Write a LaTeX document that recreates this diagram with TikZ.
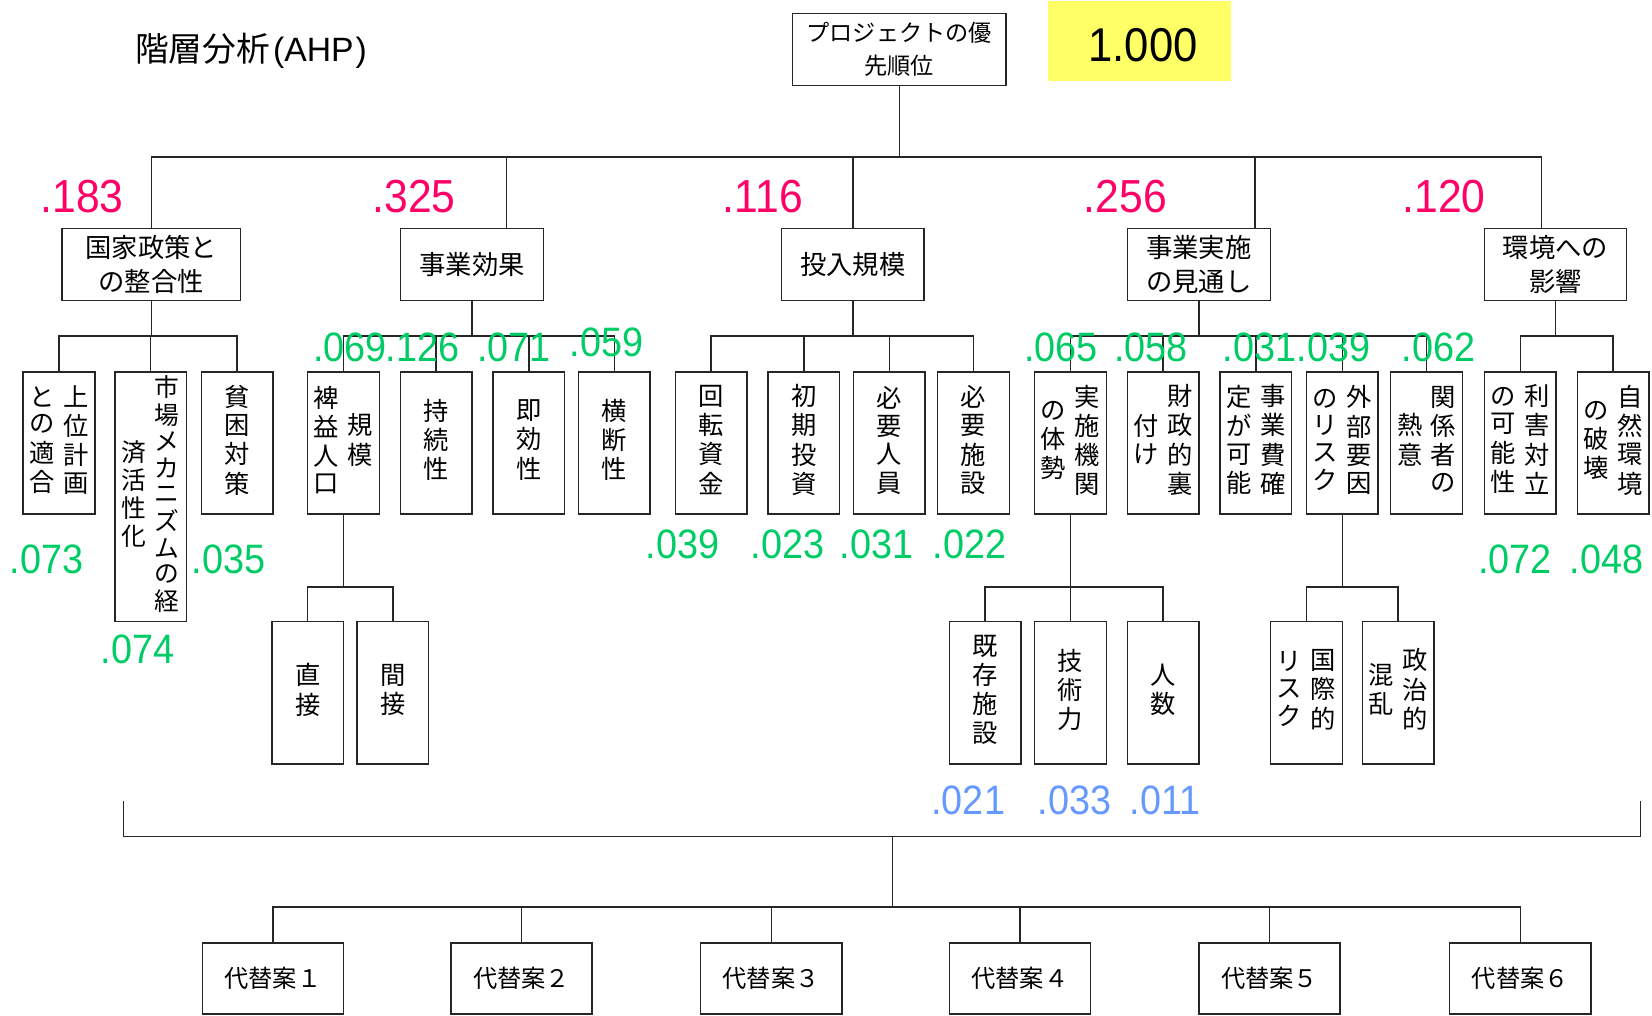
\documentclass[tikz,border=0pt]{standalone}
\usepackage{fontspec}
\setmainfont{Noto Sans CJK JP}
\newfontfamily\numfont[FakeStretch=0.92]{Liberation Sans}
\newfontfamily\latfont{Liberation Sans}
\usetikzlibrary{calc}
\definecolor{pinkv}{HTML}{FF0066}
\definecolor{greenv}{HTML}{00CC66}
\definecolor{bluev}{HTML}{6699FF}
\definecolor{yelbox}{HTML}{FFFF66}
\ExplSyntaxOn
\seq_new:N \l_vcol_seq
\NewDocumentCommand\vcol{m}{
  \seq_clear:N \l_vcol_seq
  \tl_map_inline:nn {#1} { \seq_put_right:Nn \l_vcol_seq {##1} }
  \begin{tabular}[c]{@{}c@{}} \seq_use:Nn \l_vcol_seq { \\ } \end{tabular}
}
\ExplSyntaxOff
\tikzset{
  ln/.style={draw=black!85, line width=1.3pt},
  hbox/.style={draw=black!85, line width=1.3pt, fill=white, inner sep=0pt, align=center, font=\fontsize{25}{31.5}\selectfont},
  vbx/.style={draw=black!85, line width=1.3pt, fill=white, inner sep=0pt, minimum width=68pt, minimum height=135pt, font=\fontsize{24}{25.5}\selectfont},
  pk/.style={text=pinkv, font=\numfont\fontsize{44}{44}\selectfont, anchor=base, inner sep=0pt},
  gr/.style={text=greenv, font=\numfont\fontsize{39}{39}\selectfont, anchor=base, inner sep=0pt},
  bl/.style={text=bluev, font=\numfont\fontsize{39}{39}\selectfont, anchor=base, inner sep=0pt},
}
\begin{document}
\begin{tikzpicture}[x=1pt,y=-1pt]
\useasboundingbox (0,0) rectangle (1568,964);
\node[anchor=base west, inner sep=0pt, font=\fontsize{32}{32}\selectfont] (title) at (128,58.5) {階層分析\hspace{3pt}{\latfont(AHP\hspace{2pt})}};

% top
\node[hbox, minimum width=203pt, minimum height=68pt, font=\fontsize{22}{31.5}\selectfont] (top) at (853.5,47) {プロジェクトの優\\先順位};
\node[fill=yelbox, minimum width=173pt, minimum height=76pt, inner sep=0pt] (yel) at (1081.5,39) {};
\node[font=\numfont\fontsize{45}{45}\selectfont, anchor=base, inner sep=0pt] (tot) at (1085,58.5) {1.000};

% level 1
\node[hbox, minimum width=169pt, minimum height=68pt] (A) at (143.5,251) {国家政策と\\の整合性};
\node[hbox, minimum width=136pt, minimum height=68pt] (B) at (448,251) {事業効果};
\node[hbox, minimum width=135pt, minimum height=68pt] (C) at (809.5,251) {投入規模};
\node[hbox, minimum width=136pt, minimum height=68pt] (D) at (1138,251) {事業実施\\の見通し};
\node[hbox, minimum width=135pt, minimum height=68pt] (E) at (1476.5,251) {環境への\\影響};

% level 2
\node[vbx] (a1) at (56,420.5) {\vcol{との適合}\hspace{8pt}\vcol{上位計画}};
\node[vbx, minimum height=237pt, font=\fontsize{23.5}{23.5}\selectfont] (a2) at (143,471.5) {\vcol{済活性化}\hspace{8pt}\vcol{市場メカニズムの経}};
\node[vbx] (a3) at (225,420.5) {\vcol{貧困対策}};
\node[vbx] (b1) at (326,420.5) {\vcol{裨益人口}\hspace{8pt}\vcol{規模}};
\node[vbx] (b2) at (414,420.5) {\vcol{持続性}};
\node[vbx] (b3) at (502,420.5) {\vcol{即効性}};
\node[vbx] (b4) at (583,420.5) {\vcol{横断性}};
\node[vbx] (c1) at (675,420.5) {\vcol{回転資金}};
\node[vbx] (c2) at (763,420.5) {\vcol{初期投資}};
\node[vbx] (c3) at (844,420.5) {\vcol{必要人員}};
\node[vbx] (c4) at (924,420.5) {\vcol{必要施設}};
\node[vbx] (d1) at (1016,420.5) {\vcol{の体勢}\hspace{8pt}\vcol{実施機関}};
\node[vbx] (d2) at (1104,420.5) {\vcol{付け}\hspace{8pt}\vcol{財政的裏}};
\node[vbx] (d3) at (1192,420.5) {\vcol{定が可能}\hspace{8pt}\vcol{事業費確}};
\node[vbx] (d4) at (1274,420.5) {\vcol{のリスク}\hspace{8pt}\vcol{外部要因}};
\node[vbx] (d5) at (1354,420.5) {\vcol{熱意}\hspace{8pt}\vcol{関係者の}};
\node[vbx] (e1) at (1443,420.5) {\vcol{の可能性}\hspace{8pt}\vcol{利害対立}};
\node[vbx] (e2) at (1531,420.5) {\vcol{の破壊}\hspace{8pt}\vcol{自然環境}};

% level 3
\node[vbx] (f1) at (292,657.5) {\vcol{直接}};
\node[vbx] (f2) at (373,657.5) {\vcol{間接}};
\node[vbx] (g1) at (935,657.5) {\vcol{既存施設}};
\node[vbx] (g2) at (1016,657.5) {\vcol{技術力}};
\node[vbx] (g3) at (1104,657.5) {\vcol{人数}};
\node[vbx] (h1) at (1240,657.5) {\vcol{リスク}\hspace{8pt}\vcol{国際的}};
\node[vbx] (h2) at (1327,657.5) {\vcol{混乱}\hspace{8pt}\vcol{政治的}};

% alternatives
\foreach \i/\x/\t in {1/259/代替案１,2/495/代替案２,3/732/代替案３,4/968/代替案４,5/1205/代替案５,6/1443/代替案６}{
  \node[hbox, minimum width=134pt, minimum height=67.5pt, font=\fontsize{23}{28}\selectfont] (alt\i) at (\x,928.75) {\t};
}

% bus coordinates
\coordinate (busA) at (0,149);
\coordinate (busB) at (0,319);
\coordinate (busC) at (0,557);
\coordinate (busD) at (0,861);

% level-1 connectors
\draw[ln] (top.south) -- (top.south |- busA);
\draw[ln] (A.north) -- (A.north |- busA) -- ([xshift=-13.5pt]E.north |- busA) -- ([xshift=-13.5pt]E.north);
\draw[ln] ([xshift=33pt]B.north) -- ([xshift=33pt]B.north |- busA);
\draw[ln] (C.north) -- (C.north |- busA);
\draw[ln] ([xshift=53pt]D.north) -- ([xshift=53pt]D.north |- busA);

% level-2 connectors
\draw[ln] (A.south) -- (A.south |- busB);
\draw[ln] (a1.north) -- (a1.north |- busB) -- (a3.north |- busB) -- (a3.north);
\draw[ln] (a2.north) -- (a2.north |- busB);

\draw[ln] (B.south) -- (B.south |- busB);
\draw[ln] (b1.north) -- (b1.north |- busB) -- (b4.north |- busB) -- (b4.north);
\draw[ln] (b2.north) -- (b2.north |- busB);
\draw[ln] (b3.north) -- (b3.north |- busB);

\draw[ln] (C.south) -- (C.south |- busB);
\draw[ln] (c1.north) -- (c1.north |- busB) -- (c4.north |- busB) -- (c4.north);
\draw[ln] (c2.north) -- (c2.north |- busB);
\draw[ln] (c3.north) -- (c3.north |- busB);

\draw[ln] (D.south) -- (D.south |- busB);
\draw[ln] (d1.north) -- (d1.north |- busB) -- (d5.north |- busB) -- (d5.north);
\draw[ln] (d2.north) -- (d2.north |- busB);
\draw[ln] (d3.north) -- (d3.north |- busB);
\draw[ln] (d4.north) -- (d4.north |- busB);

\draw[ln] (E.south) -- (E.south |- busB);
\draw[ln] (e1.north) -- (e1.north |- busB) -- (e2.north |- busB) -- (e2.north);

% level-3 connectors
\draw[ln] (b1.south) -- (b1.south |- busC);
\draw[ln] (f1.north) -- (f1.north |- busC) -- (f2.north |- busC) -- (f2.north);
\draw[ln] (d1.south) -- (d1.south |- busC);
\draw[ln] (g1.north) -- (g1.north |- busC) -- (g3.north |- busC) -- (g3.north);
\draw[ln] (g2.north) -- (g2.north |- busC);
\draw[ln] (d4.south) -- (d4.south |- busC);
\draw[ln] (h1.north) -- (h1.north |- busC) -- (h2.north |- busC) -- (h2.north);

% bracket and alternatives
\coordinate (brL) at (117,760);
\coordinate (brR) at (1557,760);
\coordinate (brM) at (847,794);
\draw[ln] (brL) |- (brM) -| (brR);
\draw[ln] (brM) -- (brM |- busD);
\draw[ln] (alt1.north) -- (alt1.north |- busD) -- (alt6.north |- busD) -- (alt6.north);
\foreach \i in {2,3,4,5}{ \draw[ln] (alt\i.north) -- (alt\i.north |- busD); }

% weights
\node[pk] (wA) at (78,202) {.183};
\node[pk] (wB) at (393,202) {.325};
\node[pk] (wC) at (724,202) {.116};
\node[pk] (wD) at (1068,202) {.256};
\node[pk] (wE) at (1370.6,202) {.120};

\node[gr] (wa1) at (44,544) {.073};
\node[gr] (wa2) at (130.5,629.5) {.074};
\node[gr] (wa3) at (217,544) {.035};
\node[gr] (wb1) at (332,343) {.069};
\node[gr] (wb2) at (401,343) {.126};
\node[gr] (wb3) at (488,343) {.071};
\node[gr] (wb4) at (575.5,338.5) {.059};
\node[gr] (wc1) at (648,530) {.039};
\node[gr] (wc2) at (747.7,530) {.023};
\node[gr] (wc3) at (832,530) {.031};
\node[gr] (wc4) at (920,530) {.022};
\node[gr] (wd1) at (1007,343) {.065};
\node[gr] (wd2) at (1092.5,343) {.058};
\node[gr] (wd3) at (1195.5,343) {.031};
\node[gr] (wd4) at (1265.5,343) {.039};
\node[gr] (wd5) at (1365.5,343) {.062};
\node[gr] (we1) at (1438,544) {.072};
\node[gr] (we2) at (1525,544) {.048};

\node[bl] (wg1) at (919,773.5) {.021};
\node[bl] (wg2) at (1020,773.5) {.033};
\node[bl] (wg3) at (1106,773.5) {.011};
\end{tikzpicture}
\end{document}
